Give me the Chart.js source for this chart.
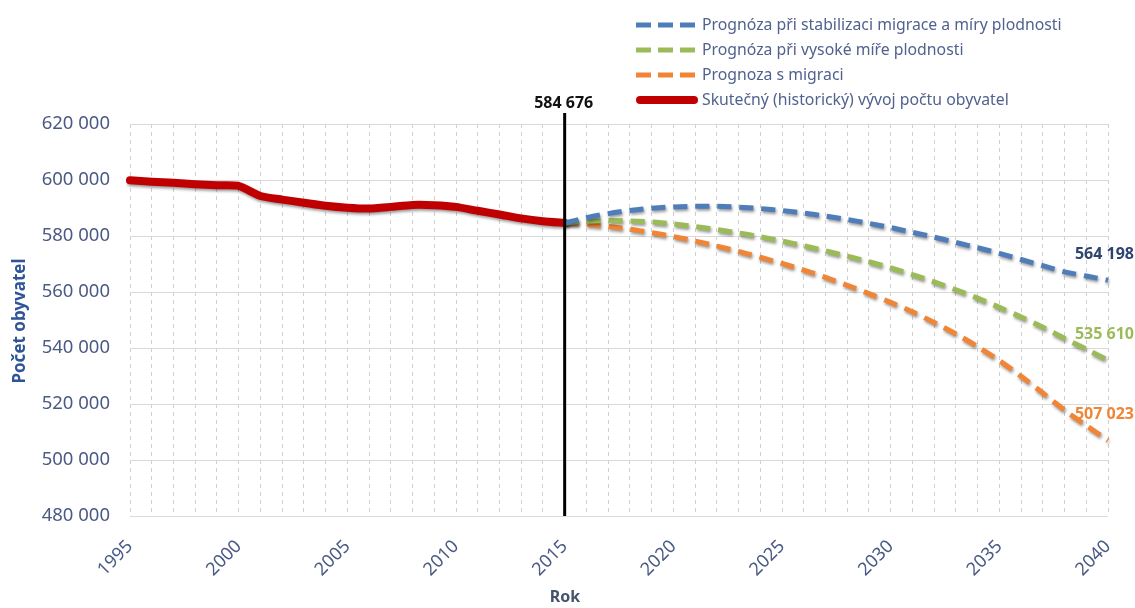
<!DOCTYPE html>
<html>
<head>
<meta charset="utf-8">
<script src="https://cdn.jsdelivr.net/npm/chart.js@4.4.1/dist/chart.umd.min.js"></script>
<style>
html,body{margin:0;padding:0;background:#fff;}
#wrap{width:1135px;height:608px;position:relative;}
</style>
</head>
<body>
<div id="wrap"><canvas id="c" width="1135" height="608"></canvas></div>
<script>
// ---- data ----
const years = [];
for (let y = 1995; y <= 2040; y++) years.push(String(y));

const historyYears = ["1995","1996","1997","1998","1999","2000","2001","2002","2003","2004","2005","2006","2007","2008","2009","2010","2011","2012","2013","2014","2015"];
const historyValues = [599900,599400,599000,598500,598100,597900,594300,593000,591900,590800,590100,589800,590400,591100,591000,590400,589000,587700,586300,585300,584676];

const forecastYears = ["2015","2016","2017","2018","2019","2020","2021","2022","2023","2024","2025","2026","2027","2028","2029","2030","2031","2032","2033","2034","2035","2036","2037","2038","2039","2040"];
const stabilValues = [584676,586500,588000,589100,589900,590400,590600,590600,590300,589800,589100,588200,587100,585900,584500,583000,581300,579600,577700,575800,573800,571600,569400,567200,565700,564198];
const fertilityValues = [584676,585300,585500,585400,585000,584300,583400,582300,581100,579700,578200,576500,574700,572800,570800,568600,566200,563600,560800,557800,554500,551100,547400,543400,539600,535610];
const migrationValues = [584676,584200,583400,582400,581200,579800,578200,576400,574500,572400,570200,567800,565200,562400,559400,556300,552900,549100,545000,540500,535500,529900,523900,517800,512300,507023];

const seriesNames = [
  "Prognóza při stabilizaci migrace a míry plodnosti",
  "Prognóza při vysoké míře plodnosti",
  "Prognoza s migraci",
  "Skutečný (historický) vývoj počtu obyvatel"
];
const yTicks = [480000,500000,520000,540000,560000,580000,600000,620000];
const xTickEvery = 5;
const markerYear = "2015";

// ---- helpers ----
function alignTo(labelsSub, values) {
  return years.map(y => { const i = labelsSub.indexOf(y); return i >= 0 ? values[i] : null; });
}
function fmt(v) { return String(v).replace(/\B(?=(\d{3})+(?!\d))/g, " "); }

const colBlue = "#4F7DBA", colGreen = "#9BBB59", colOrange = "#F08536", colRed = "#C00000";
const FONT = "'Noto Sans', 'Open Sans', sans-serif";
const TXT = '#4A5A84';

const shadowPlugin = {
  id: 'shadow',
  beforeDatasetDraw(chart) {
    const ctx = chart.ctx; ctx.save();
    ctx.shadowColor = 'rgba(0,0,0,0.4)'; ctx.shadowBlur = 3; ctx.shadowOffsetX = 1; ctx.shadowOffsetY = 2;
  },
  afterDatasetDraw(chart) { chart.ctx.restore(); }
};

const decoPlugin = {
  id: 'deco',
  afterDatasetsDraw(chart) {
    const ctx = chart.ctx, xs = chart.scales.x, area = chart.chartArea;
    // vertical marker line
    const mx = xs.getPixelForValue(years.indexOf(markerYear));
    ctx.save();
    ctx.strokeStyle = '#000'; ctx.lineWidth = 3;
    ctx.beginPath(); ctx.moveTo(mx, area.top - 11); ctx.lineTo(mx, area.bottom); ctx.stroke();
    ctx.fillStyle = '#111'; ctx.font = "bold 16px " + FONT; ctx.textAlign = 'center'; ctx.textBaseline = 'middle';
    ctx.fillText(fmt(historyValues[historyValues.length - 1]), mx - 1, area.top - 21);
    // end labels
    const endCols = ['#2E4470', colGreen, colOrange];
    [0,1,2].forEach(di => {
      const meta = chart.getDatasetMeta(di);
      const pt = meta.data[meta.data.length - 1];
      const ds = chart.data.datasets[di];
      ctx.fillStyle = endCols[di]; ctx.font = "bold 16px " + FONT; ctx.textAlign = 'right';
      ctx.fillText(fmt(ds.data[ds.data.length - 1]), 1134, pt.y - 26);
    });
    // axis titles
    ctx.fillStyle = '#44546A'; ctx.font = "bold 16px " + FONT; ctx.textAlign = 'center';
    ctx.fillText("Rok", 565, 597);
    ctx.save();
    ctx.translate(20, (area.top + area.bottom) / 2 + 1); ctx.rotate(-Math.PI / 2);
    ctx.fillStyle = '#2F5597'; ctx.font = "bold 17px " + FONT;
    ctx.fillText("Počet obyvatel", 0, 0);
    ctx.restore();
    // legend
    const cols = [colBlue, colGreen, colOrange, colRed];
    const ly = [25, 50, 75, 100];
    for (let i = 0; i < 4; i++) {
      ctx.save();
      if (i < 3) { ctx.setLineDash([15, 7]); ctx.lineWidth = 5; } else { ctx.lineWidth = 8; ctx.lineCap = 'round'; }
      ctx.strokeStyle = cols[i];
      ctx.beginPath(); ctx.moveTo(i < 3 ? 636 : 640, ly[i]); ctx.lineTo(i < 3 ? 696 : 694, ly[i]); ctx.stroke();
      ctx.restore();
      ctx.fillStyle = '#51628F'; ctx.font = "15.8px " + FONT; ctx.textAlign = 'left'; ctx.textBaseline = 'middle';
      ctx.fillText(seriesNames[i], 702, ly[i]);
    }
    ctx.restore();
  }
};

new Chart(document.getElementById('c'), {
  type: 'line',
  data: {
    labels: years,
    datasets: [
      { label: seriesNames[0], data: alignTo(forecastYears, stabilValues), borderColor: colBlue, borderWidth: 5, borderDash: [14, 8], tension: 0.3, pointRadius: 0, fill: false },
      { label: seriesNames[1], data: alignTo(forecastYears, fertilityValues), borderColor: colGreen, borderWidth: 5, borderDash: [14, 8], tension: 0.3, pointRadius: 0, fill: false },
      { label: seriesNames[2], data: alignTo(forecastYears, migrationValues), borderColor: colOrange, borderWidth: 5, borderDash: [14, 8], tension: 0.3, pointRadius: 0, fill: false },
      { label: seriesNames[3], data: alignTo(historyYears, historyValues), borderColor: colRed, borderWidth: 8, tension: 0.2, pointRadius: 0, fill: false, borderCapStyle: 'round' }
    ]
  },
  options: {
    responsive: false,
    animation: false,
    devicePixelRatio: 1,
    layout: { padding: { left: 0, right: 27, top: 124, bottom: 0 } },
    plugins: { legend: { display: false }, tooltip: { enabled: false } },
    scales: {
      x: {
        type: 'category',
        grid: { color: '#CFCFCF', lineWidth: 1, drawTicks: false },
        border: { display: false, dash: [4, 4] },
        ticks: {
          autoSkip: false, maxRotation: 45, minRotation: 45, padding: 20,
          color: TXT, font: { family: FONT, size: 18 },
          callback: function(v, i) { const y = years[i]; return (Number(y) - 1995) % xTickEvery === 0 ? y : ''; }
        },
        afterFit(s) { s.height = 92; s.paddingLeft = 0; s.paddingRight = 0; }
      },
      y: {
        min: yTicks[0], max: yTicks[yTicks.length - 1],
        afterBuildTicks(s) { s.ticks = yTicks.map(v => ({ value: v })); },
        grid: { color: '#DADADA', lineWidth: 1, drawTicks: false },
        border: { display: false },
        ticks: { padding: 20, color: TXT, font: { family: FONT, size: 18.5 }, callback: v => fmt(v) },
        afterFit(s) { s.width = 130; s.paddingTop = 0; s.paddingBottom = 0; }
      }
    }
  },
  plugins: [shadowPlugin, decoPlugin]
});
</script>
</body>
</html>
